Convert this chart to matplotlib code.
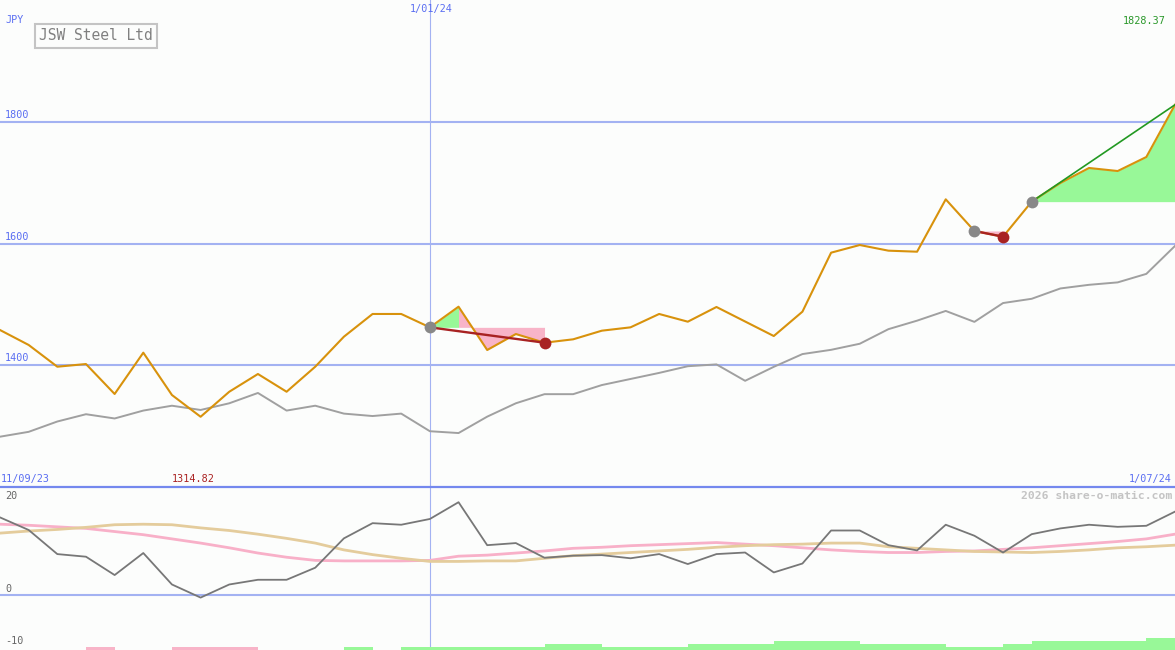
import numpy as np
from matplotlib import pyplot as plt

# weekly closes, JSW Steel Ltd (JPY)
close = [1457.6, 1433, 1397.2, 1401.6, 1352.3, 1420.3, 1350.6, 1314.82, 1356, 1385.2,
         1356, 1397.2, 1446.6, 1484, 1484, 1462, 1496, 1424.7, 1451, 1436.7,
         1442.3, 1456.5, 1462, 1484, 1471.3, 1495.5, 1471.6, 1447.7, 1487.8, 1584.9,
         1597.5, 1588.2, 1586.5, 1672.7, 1620.6, 1611.2, 1668.9, 1699.6, 1724.3, 1719.3,
         1742.4, 1828.37]
avg = [1282, 1290, 1307, 1319, 1312, 1325, 1333, 1326, 1337, 1354,
       1325, 1333, 1320, 1316, 1320, 1291, 1288, 1315, 1337, 1352,
       1352, 1367, 1377, 1387, 1398, 1401, 1374, 1397, 1418, 1425,
       1435, 1459, 1473, 1489, 1471, 1502, 1509, 1526, 1532, 1536,
       1550, 1596]

# lower panel
osc = [14.8, 12.4, 7.8, 7.3, 3.8, 8.0, 2.0, -0.5, 2.0, 2.9,
       2.9, 5.2, 10.8, 13.7, 13.4, 14.5, 17.7, 9.5, 9.9, 7.1,
       7.5, 7.6, 7.0, 7.8, 5.9, 7.8, 8.1, 4.3, 6.0, 12.3,
       12.3, 9.5, 8.5, 13.4, 11.3, 8.1, 11.6, 12.7, 13.4, 13.0,
       13.2, 15.9]
osc_pink = [13.5, 13.3, 13.0, 12.7, 12.1, 11.5, 10.7, 9.9, 9.0, 8.0,
            7.2, 6.6, 6.5, 6.5, 6.5, 6.6, 7.4, 7.6, 8.0, 8.4,
            8.9, 9.1, 9.4, 9.6, 9.8, 10.0, 9.7, 9.4, 9.0, 8.6,
            8.3, 8.1, 8.1, 8.3, 8.4, 8.7, 9.0, 9.4, 9.8, 10.2,
            10.7, 11.6]
osc_tan = [11.8, 12.2, 12.5, 12.9, 13.4, 13.5, 13.4, 12.8, 12.3, 11.6,
           10.8, 9.9, 8.6, 7.7, 7.0, 6.4, 6.4, 6.5, 6.5, 7.0,
           7.5, 7.8, 8.1, 8.4, 8.7, 9.1, 9.4, 9.6, 9.7, 9.9,
           9.9, 9.2, 8.9, 8.6, 8.3, 8.2, 8.1, 8.3, 8.6, 9.0,
           9.2, 9.5]
# bottom strip: +n green, -n pink, 0 none (one per week)
strip = [0, 0, 0, -1, 0, 0, -1, -1, -1, 0,
         0, 0, 1, 0, 1, 1, 1, 1, 1, 2,
         2, 1, 1, 1, 2, 2, 2, 3, 3, 3,
         2, 2, 2, 1, 1, 2, 3, 3, 3, 3,
         4]

# signals: start week, end week
sig_from = [15, 34, 36]
sig_to = [19, 35, 41]
sig_open = [False, False, True]

price_ticks = [1400, 1600, 1800]
osc_ticks = [20, 0, -10]
date_first = '11/09/23'
date_mid = '1/01/24'
date_last = '1/07/24'
mid_week = 15
title = 'JSW Steel Ltd'

W, H = 1175, 650
bg = '#fcfdfc'
grid_c = '#a3b2f2'
blue_txt = '#5a6ef2'
mono = 'DejaVu Sans Mono'

fig = plt.figure(figsize=(W / 100, H / 100), dpi=100)
fig.patch.set_facecolor(bg)

ax = fig.add_axes([0, 163 / H, 1, 487 / H])
ax2 = fig.add_axes([0, 0, 1, 163 / H])
for a in (ax, ax2):
    a.set_facecolor(bg)
    a.set_axis_off()
    a.set_xlim(0, len(close) - 1)

x = np.arange(len(close))
ax.set_ylim(1199.2, 2000.8)
ax2.set_ylim(-10.5, 20.6)

for p in price_ticks:
    ax.axhline(p, color=grid_c, lw=1.5, zorder=1)
    ax.annotate(str(p), (0, p), xytext=(5, 7), textcoords='offset pixels',
                color=blue_txt, fontsize=7.3, family=mono, va='center')
ax.axvline(mid_week, color=grid_c, lw=0.8, zorder=1)
ax2.axvline(mid_week, color=grid_c, lw=0.8, zorder=1)

ax.plot(x, avg, color='#a0a0a0', lw=1.4, zorder=3)

# signal fills: green while price stays above the entry, pink after that
cl = np.array(close)
for a, b, op in zip(sig_from, sig_to, sig_open):
    level = cl[a]
    k = a
    while k < b and cl[k + 1] >= level:
        k += 1
    if k > a:
        ax.fill_between(x[a:k + 1], level, cl[a:k + 1], color='#98f898', lw=0, zorder=2)
    if k < b:
        ax.fill_between(x[k:b + 1], level, cl[k:b + 1], color='#f8b4c8', lw=0, zorder=2)

ax.plot(x, close, color='#d8920c', lw=1.5, zorder=4)

for a, b, op in zip(sig_from, sig_to, sig_open):
    lc = '#229922' if op else '#a82222'
    ax.plot([a, b], [close[a], close[b]], color=lc, lw=1.2 if op else 1.7, zorder=5)
    ax.plot(a, close[a], 'o', color='#888888', ms=8.5, mew=0, zorder=6)
    if not op:
        ax.plot(b, close[b], 'o', color='#a82222', ms=8.5, mew=0, zorder=6)

# lower panel
ax2.axhline(0, color=grid_c, lw=1.5, zorder=1)
ax2.plot(x, osc_pink, color='#f8b0c8', lw=2, zorder=2)
ax2.plot(x, osc_tan, color='#e4cc9c', lw=2, zorder=2)
ax2.plot(x, osc, color='#777777', lw=1.3, zorder=3)

ax3 = ax2.twinx()
ax3.set_axis_off()
ax3.set_xlim(0, len(close) - 1)
ax3.set_ylim(0, 163 / 3)
sv = np.array(strip)
ax3.bar(x[:-1][sv > 0], sv[sv > 0], width=1, align='edge', color='#98f898', lw=0)
ax3.bar(x[:-1][sv < 0], -sv[sv < 0], width=1, align='edge', color='#f8b4c8', lw=0)

for v, yp in zip(osc_ticks, [496, 589, 641]):
    fig.text(5 / W, 1 - yp / H, str(v), color='#666666', fontsize=7.3, family=mono, va='center')

# separator
fig.add_artist(plt.Line2D([0, 1], [1 - 487 / H] * 2, color='#7488ee', lw=1.6))

# texts
fig.text(5 / W, 1 - 20 / H, 'JPY', color=blue_txt, fontsize=7.3, family=mono, va='center')
fig.text(431 / W, 1 - 9 / H, date_mid, color=blue_txt, fontsize=7.3, family=mono,
         va='center', ha='center')
fig.text(1166 / W, 1 - 21 / H, '%.2f' % max(close), color='#2a982a', fontsize=7.3,
         family=mono, va='center', ha='right')
fig.text(1 / W, 1 - 479 / H, date_first, color=blue_txt, fontsize=7.3, family=mono, va='center')
fig.text(1172 / W, 1 - 479 / H, date_last, color=blue_txt, fontsize=7.3, family=mono,
         va='center', ha='right')
fig.text(193 / W, 1 - 479 / H, '%.2f' % min(close), color='#aa2222', fontsize=7.3,
         family=mono, va='center', ha='center')
fig.text(1172 / W, 1 - 496 / H, '2026 share-o-matic.com', color='#c4c4c4', fontsize=8.2,
         family=mono, weight='bold', va='center', ha='right')
fig.text(96 / W, 1 - 36 / H, title, color='#808080', fontsize=10.5, family=mono,
         va='center', ha='center',
         bbox=dict(boxstyle='square,pad=0.3', fc=bg, ec='#c4c4c4', lw=1.5))

fig.savefig('out.png', dpi=100, facecolor=bg)
